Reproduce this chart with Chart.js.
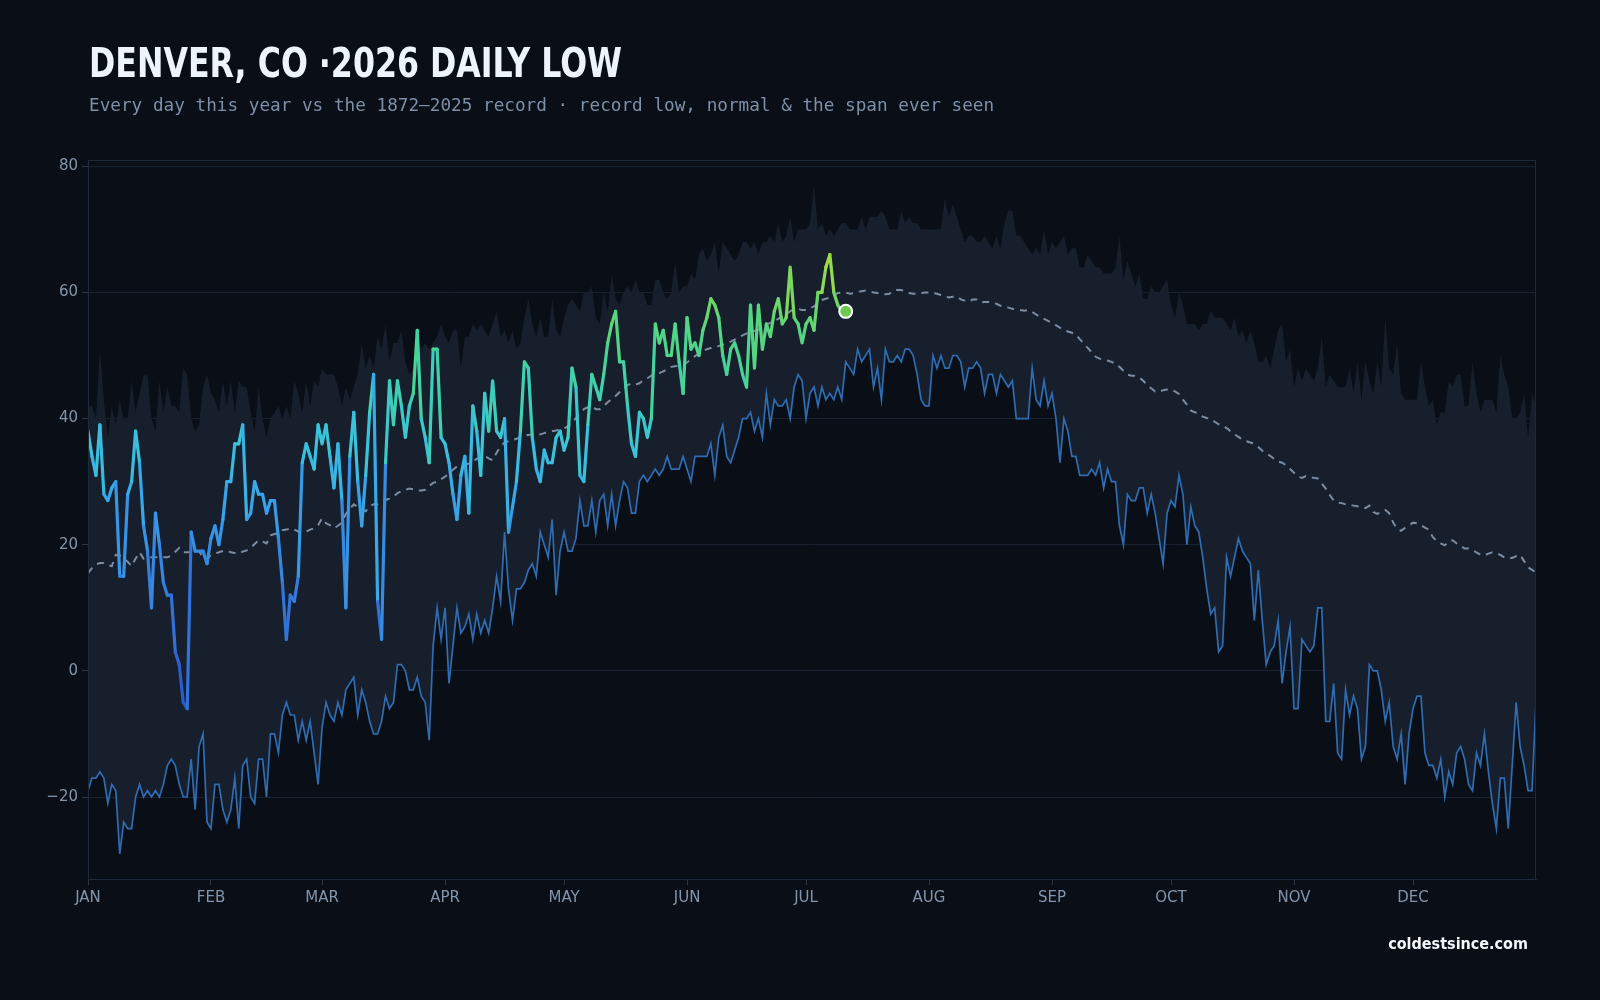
<!DOCTYPE html>
<html>
<head>
<meta charset="utf-8">
<title>Denver daily low 2026</title>
<script src="https://cdn.jsdelivr.net/npm/chart.js@4.4.1/dist/chart.umd.min.js"></script>
<style>
  html, body { margin:0; padding:0; background:#0a0e16; }
  #wrap { position:relative; width:1600px; height:1000px; overflow:hidden; background:#0a0e16; }
  #chartCanvas { position:absolute; left:0; top:0; }
  .title { position:absolute; left:89px; top:43px; font-family:"DejaVu Sans Condensed","DejaVu Sans",sans-serif; font-stretch:condensed;
           font-weight:bold; font-size:41px; line-height:41px; color:#eef4fc; white-space:nowrap; transform-origin:0 0; display:inline-block; }
  .subTitle { position:absolute; left:89px; top:96px; font-family:"DejaVu Sans Mono",monospace; font-size:17.7px; line-height:18px;
              color:#7d90a8; white-space:nowrap; }
  .footer { position:absolute; right:72px; top:936px; font-family:"DejaVu Sans Condensed","DejaVu Sans",sans-serif; font-stretch:condensed;
            font-weight:bold; font-size:16px; line-height:16px; color:#f4f8fc; white-space:nowrap; }
</style>
</head>
<body>
<div id="wrap">
  <canvas id="chartCanvas" width="1600" height="1000"></canvas>
  <div class="title" id="titleTxt">DENVER, CO ·2026 DAILY LOW</div>
  <div class="subTitle">Every day this year vs the 1872–2025 record · record low, normal &amp; the span ever seen</div>
  <div class="footer">coldestsince.com</div>
</div>
<script>
// x축 : 1월1일 = 0 (day of year)
const monthLabels    = ["JAN","FEB","MAR","APR","MAY","JUN","JUL","AUG","SEP","OCT","NOV","DEC"];
const monthStartDays = [0,31,59,90,120,151,181,212,243,273,304,334];
const yTicks         = [-20,0,20,40,60,80];

// 2026 daily low (Jan 1 ~ Jul 11)
const lows2026 = [
  38,34,31,39,28,27,29,30,15,15, 28,30,38,33,23,19,10,25,20,14,
  12,12,3,1,-5,-6,22,19,19,19, 17,21,23,20,24,30,30,36,36,39,
  24,25,30,28,28,25,27,27,21,14, 5,12,11,15,33,36,34,32,39,36,
  39,34,29,36,27,10,34,41,30,23, 31,41,47,11,5,33,46,39,46,42,
  37,42,44,54,40,37,33,51,51,37, 36,33,28,24,31,34,25,42,38,31,
  44,38,46,38,37,40,22,26,30,38, 49,48,37,32,30,35,33,33,37,38,
  35,37,48,45,31,30,39,47,45,43, 47,52,55,57,49,49,42,36,34,41,
  40,37,40,55,52,54,50,50,55,49, 44,56,51,52,50,54,56,59,58,56,
  50,47,51,52,50,47,45,58,48,58, 51,55,53,57,59,55,56,64,56,55,
  52,55,56,54,60,60,64,66,60,58, 57,57
];

// record low (1872-2025), 366 days
const recordLow = [
  -19,-17,-17,-16,-17,-21,-18,-19,-29,-24, -25,-25,-20,-18,-20,-19,-20,-19,-20,-18,
  -15,-14,-15,-18,-20,-20,-14,-22,-12,-10, -24,-25,-18,-18,-22,-24,-22,-17,-25,-15,
  -14,-20,-21,-14,-14,-20,-10,-10,-13,-7, -5,-7,-7,-11,-8,-11,-8,-13,-18,-9,
  -5,-7,-8,-5,-7,-3,-2,-1,-7,-3, -5,-8,-10,-10,-8,-4,-6,-5,1,1,
  0,-3,-3,-1,-4,-5,-11,4,10,5, 10,-2,4,10,6,7,9,5,9,6,
  8,6,10,15,11,22,13,8,13,13, 14,16,17,15,22,20,18,24,12,19,
  22,19,19,21,27,23,23,27,22,27, 28,23,28,23,27,30,29,25,25,30,
  31,30,31,32,31,32,34,32,32,32, 34,32,30,34,34,34,34,36,31,37,
  39,34,33,35,37,40,40,41,38,40, 37,44,39,43,42,42,43,40,45,47,
  46,40,44,45,42,45,43,44,43,45, 43,49,48,47,51,49,50,51,45,48,
  43,51,49,49,50,49,51,51,50,47, 43,42,42,50,48,50,48,48,50,50,
  49,45,48,48,49,48,44,47,47,44, 47,46,45,46,40,40,40,40,48,43,
  42,46,42,44,40,33,40,38,34,34, 31,31,31,32,31,33,29,32,30,30,
  23,20,28,27,27,29,29,25,28,25, 21,17,25,27,26,31,28,20,26,23,
  22,18,13,9,10,3,4,18,15,18, 21,19,18,17,8,16,8,1,3,4,
  8,-2,3,7,-6,-6,5,4,3,4, 10,10,-8,-8,-2,-13,-14,-3,-7,-4,
  -6,-14,-12,1,0,0,-3,-8,-5,-12, -14,-10,-18,-10,-6,-4,-4,-13,-15,-15,
  -17,-14,-20,-16,-18,-13,-12,-14,-18,-19, -13,-15,-10,-16,-21,-25,-17,-17,-25,-15,
  -5,-12,-15,-19,-19,-5
];

// 가장 따뜻했던 최저기온 (span top), 366 days
const recordHighLow = [
  42,42,40,51,43,37,42,39,43,40, 40,46,41,44,47,47,40,38,46,41,
  45,42,42,41,48,47,40,38,39,45, 47,44,43,41,46,42,46,41,46,45,
  45,41,38,45,40,37,40,41,42,40, 42,40,46,44,41,46,42,46,45,48,
  47,47,47,45,42,45,43,45,47,52, 48,50,48,53,51,55,49,52,52,54,
  49,47,48,53,51,52,51,52,53,55, 53,52,54,54,48,53,53,55,54,55,
  54,53,55,57,53,54,52,54,51,52, 56,59,55,53,56,53,53,59,54,53,
  56,58,59,58,57,60,60,61,56,55, 60,57,63,59,58,60,61,60,62,60,
  60,58,58,62,62,60,59,60,65,60, 61,61,63,62,66,67,65,66,68,63,
  68,67,66,65,66,68,68,67,68,66, 68,68,69,68,71,68,69,72,68,70,
  70,70,71,77,70,71,69,70,69,70, 71,71,70,70,70,72,70,72,72,72,
  73,72,70,70,70,73,71,72,71,71, 70,70,70,70,70,70,75,72,74,72,
  70,68,69,69,68,68,69,68,67,69, 67,71,73,73,69,69,68,67,66,67,
  66,70,66,68,67,68,69,66,67,67, 64,64,66,65,64,64,63,63,63,64,
  69,62,65,63,61,63,59,59,61,60, 60,61,62,58,56,60,58,55,55,55,
  54,55,55,57,56,56,56,55,54,56, 53,54,52,54,52,49,49,50,48,51,
  54,55,49,51,45,48,46,48,47,46, 48,53,45,47,46,45,45,45,48,44,
  49,43,49,46,44,49,45,56,48,47, 52,44,43,43,43,43,49,45,42,43,
  39,41,41,46,45,47,47,42,42,49, 44,41,43,43,43,41,50,47,45,40,
  40,41,44,37,44,42
];

// normal (평년 최저기온), 366 days
const normalLow = [
  15.5,16.3,16.9,17.1,17.1,16.8,16.6,18.4,18.3,17.8, 17.3,16.6,17.8,18.8,17.8,17.9,18.0,18.0,18.0,18.0,
  18.0,18.3,18.9,19.5,18.8,18.8,18.8,18.9,19.0,17.9, 17.7,18.4,18.6,18.8,19.0,19.1,18.8,18.7,18.6,18.9,
  19.1,19.5,20.1,20.7,20.5,20.2,21.5,21.7,21.8,22.3, 22.4,22.6,22.4,22.1,21.9,22.1,22.4,22.6,23.1,24.2,
  23.4,23.1,22.6,23.0,23.5,24.9,25.7,26.4,26.0,25.6, 25.3,26.1,26.4,26.4,26.8,27.1,27.3,27.6,28.2,28.5,
  28.7,28.9,28.8,28.6,28.6,28.7,29.3,29.8,30.0,30.4, 30.8,31.3,31.9,32.4,32.5,32.6,32.9,33.2,33.6,33.9,
  34.1,33.7,33.4,34.6,35.6,36.2,36.4,36.6,36.8,37.0, 37.3,37.4,37.5,37.4,37.5,37.7,37.9,38.0,38.1,38.3,
  38.4,38.8,39.3,40.1,40.8,41.5,41.8,42.0,41.5,41.5, 42.0,42.6,43.1,43.6,44.2,44.9,45.3,45.6,45.4,45.6,
  46.1,46.4,46.8,47.0,47.2,47.5,47.8,48.2,48.3,48.4, 48.6,48.9,49.4,49.9,50.3,50.7,51.0,51.2,51.4,51.5,
  51.7,52.0,52.2,52.5,52.9,53.2,53.5,53.7,53.9,54.1, 54.4,54.8,55.2,55.5,55.8,56.2,56.6,57.0,57.4,57.4,
  57.2,57.2,57.5,57.8,58.3,58.8,59.0,59.2,59.5,59.9, 60.0,60.0,59.8,59.9,60.1,60.2,60.3,60.2,60.0,59.9,
  59.8,59.7,59.8,60.3,60.4,60.4,60.1,59.9,59.8,59.8, 59.9,60.0,60.0,59.9,59.8,59.6,59.4,59.2,59.3,59.4,
  58.9,58.7,58.5,58.9,58.9,58.4,58.5,58.5,58.4,58.2, 57.9,57.8,57.6,57.4,57.3,57.2,57.1,57.2,56.9,56.5,
  56.1,55.8,55.5,55.1,54.8,54.4,54.0,53.8,53.6,53.4, 52.6,51.9,51.2,50.5,49.8,49.5,49.3,49.2,49.0,48.7,
  48.2,47.6,47.0,46.8,46.8,46.5,46.0,45.3,44.8,44.3, 44.2,44.5,44.6,44.6,44.3,43.9,43.0,42.2,41.3,41.0,
  40.8,40.3,40.1,40.0,39.5,39.1,38.9,38.5,38.0,37.5, 37.1,36.7,36.4,36.2,36.0,35.5,34.9,34.5,34.1,33.6,
  33.2,33.0,32.6,32.0,31.4,30.8,30.6,30.9,30.7,30.6, 30.5,29.7,28.9,27.9,27.0,26.7,26.6,26.4,26.3,26.2,
  26.1,26.0,25.8,26.2,25.2,24.9,25.2,25.5,25.0,23.5, 22.5,22.2,22.7,23.1,23.5,23.4,23.1,22.7,22.4,21.2,
  20.6,20.2,19.9,20.5,20.7,20.2,19.8,19.4,19.4,19.1, 18.8,18.4,18.3,18.6,18.8,18.7,18.4,18.0,17.9,17.9,
  18.2,18.4,17.4,16.4,16.0,15.6
];

// 온도 -> 색 (차가움 파랑 ~ 따뜻함 연두)
const colorStops = [
  [-10,[44,76,192]], [0,[47,95,208]], [15,[53,128,224]], [28,[56,166,234]],
  [36,[59,195,220]], [44,[63,208,176]], [52,[79,213,138]], [58,[108,214,104]], [66,[174,219,60]]
];

function tempColor(v){
	if(v <= colorStops[0][0]) return 'rgb('+colorStops[0][1].join(',')+')';
	for(let i=1; i<colorStops.length; i++){
		if(v <= colorStops[i][0]){
			const a = colorStops[i-1], b = colorStops[i];
			const t = (v - a[0]) / (b[0] - a[0]);
			const c = a[1].map((cv, k) => Math.round(cv + (b[1][k] - cv) * t));
			return 'rgb('+c.join(',')+')';
		}
	}
	return 'rgb('+colorStops[colorStops.length-1][1].join(',')+')';
}

function toXY(arr){
	return arr.map((v, i) => ({x:i, y:v}));
}

const lastIdx = lows2026.length - 1;

// 플롯 테두리
const framePlugin = {
	id : 'frame',
	afterDraw(chart){
		const a = chart.chartArea;
		const ctx = chart.ctx;
		ctx.save();
		ctx.strokeStyle = '#1e2a3a';
		ctx.lineWidth = 1;
		ctx.strokeRect(a.left + 0.5, a.top + 0.5, a.right - a.left - 1, a.bottom - a.top);
		ctx.restore();
	}
};

const tickFont = { family:'"DejaVu Sans", sans-serif', size:15 };

new Chart(document.getElementById('chartCanvas').getContext('2d'), {
	type : 'line',
	data : {
		datasets : [
			{
				label : '2026',
				data : toXY(lows2026),
				borderWidth : 3.2,
				borderJoinStyle : 'round',
				borderCapStyle : 'round',
				tension : 0,
				segment : {
					borderColor : ctx => tempColor((ctx.p0.parsed.y + ctx.p1.parsed.y) / 2)
				},
				borderColor : '#3bc3dc',
				pointRadius : ctx => ctx.dataIndex === lastIdx ? 6.5 : 0,
				pointBackgroundColor : '#6cc94f',
				pointBorderColor : '#ffffff',
				pointBorderWidth : 2,
				fill : false
			},
			{
				label : 'normal',
				data : toXY(normalLow),
				borderColor : '#7b8da4',
				borderWidth : 2,
				borderDash : [7,6],
				pointRadius : 0,
				tension : 0,
				fill : false
			},
			{
				label : 'record low',
				data : toXY(recordLow),
				borderColor : '#2f6cb2',
				borderWidth : 1.7,
				pointRadius : 0,
				tension : 0,
				fill : false
			},
			{
				label : 'span',
				data : toXY(recordHighLow),
				borderColor : 'rgba(0,0,0,0)',
				borderWidth : 0,
				pointRadius : 0,
				tension : 0,
				fill : 2,
				backgroundColor : '#161f2b'
			}
		]
	},
	options : {
		responsive : false,
		devicePixelRatio : 1,
		animation : false,
		layout : { padding : { top:160, left:28, right:64, bottom:81 } },
		plugins : {
			legend : { display:false },
			tooltip : { enabled:false }
		},
		scales : {
			x : {
				type : 'linear',
				min : 0,
				max : 365,
				afterBuildTicks : axis => { axis.ticks = monthStartDays.map(v => ({value:v})); },
				afterFit : axis => { axis.height = 40; },
				ticks : {
					autoSkip : false,
					maxRotation : 0,
					color : '#8395ab',
					font : tickFont,
					padding : 4,
					callback : (v, i) => monthLabels[i]
				},
				grid : { drawOnChartArea:false, drawTicks:true, tickLength:6, tickColor:'#2a3749' },
				border : { color:'#1e2a3a' }
			},
			y : {
				min : -33,
				max : 81,
				afterBuildTicks : axis => { axis.ticks = yTicks.map(v => ({value:v})); },
				afterFit : axis => { axis.width = 60; },
				ticks : {
					color : '#8395ab',
					font : tickFont,
					padding : 4,
					callback : v => v < 0 ? '\u2212' + Math.abs(v) : String(v)
				},
				grid : { color:'#182230', lineWidth:1, drawTicks:true, tickLength:6, tickColor:'#2a3749' },
				border : { color:'#1e2a3a' }
			}
		}
	},
	plugins : [framePlugin]
});

// 제목 폭 맞추기
const titleEl = document.getElementById('titleTxt');
const titleW = titleEl.getBoundingClientRect().width;
titleEl.style.transform = 'scaleX(' + (533 / titleW) + ')';
</script>
</body>
</html>
